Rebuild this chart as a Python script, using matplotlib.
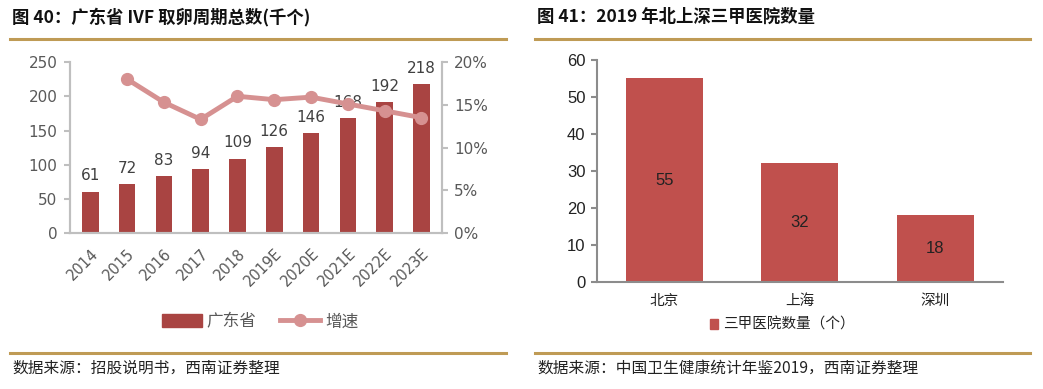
import matplotlib
matplotlib.use("Agg")
import matplotlib.pyplot as plt
from matplotlib.lines import Line2D
from matplotlib.patches import Patch
from matplotlib.ticker import FuncFormatter

plt.rcParams['font.family'] = ['Noto Sans CJK SC', 'DejaVu Sans']

# ---- data ----
years = ["2014", "2015", "2016", "2017", "2018", "2019E", "2020E", "2021E", "2022E", "2023E"]
gd_cycles = [61, 72, 83, 94, 109, 126, 146, 168, 192, 218]
growth_pct = [None, 18.0, 15.3, 13.3, 16.0, 15.6, 15.9, 15.1, 14.3, 13.5]

cities = ["北京", "上海", "深圳"]
hospitals = [55, 32, 18]

title_left = "图 40：广东省 IVF 取卵周期总数(千个)"
title_right = "图 41：2019 年北上深三甲医院数量"
source_left = "数据来源：招股说明书，西南证券整理"
source_right = "数据来源：中国卫生健康统计年鉴2019，西南证券整理"

W, H = 1043, 389
fig = plt.figure(figsize=(W / 100, H / 100), dpi=100)
fig.patch.set_facecolor("white")

def px(x0, y0, x1, y1):
    return [x0 / W, 1 - y1 / H, (x1 - x0) / W, (y1 - y0) / H]

gold = "#BF9B55"
grey_txt = "#595959"
axis_grey = "#BFBFBF"
num_font = ['DejaVu Sans', 'Noto Sans CJK SC']
arial = ['Liberation Sans', 'Noto Sans CJK SC']

# ---- decorations ----
for (x0, x1, y) in [(10, 506, 38.5), (10, 506, 353), (535, 1030, 38.5), (535, 1030, 353)]:
    fig.add_artist(Line2D([x0 / W, x1 / W], [1 - y / H, 1 - y / H], color=gold, lw=2.2))

fig.text(12 / W, 1 - 17 / H, title_left, fontsize=12.5, fontweight="bold", va="center", ha="left", color="#111111")
fig.text(537 / W, 1 - 17 / H, title_right, fontsize=12.5, fontweight="bold", va="center", ha="left", color="#111111")
fig.text(12 / W, 1 - 368 / H, source_left, fontsize=11.3, va="center", ha="left", color="#222222")
fig.text(537 / W, 1 - 368 / H, source_right, fontsize=11.3, va="center", ha="left", color="#222222")

# ---- left chart ----
bar_c = "#A94442"
line_c = "#D69191"
ax = fig.add_axes(px(70, 62, 441.7, 233.3))
x = list(range(len(years)))
ax.bar(x, gd_cycles, width=0.45, color=bar_c, zorder=2)
for xi, v in zip(x, gd_cycles):
    ax.text(xi, v + 12, str(v), ha="center", va="bottom", fontsize=11, color="#404040", family=num_font)
ax.set_ylim(0, 250)
ax.set_yticks([0, 50, 100, 150, 200, 250])
ax.set_xlim(-0.55, len(years) - 0.45)
ax.set_xticks(x)
ax.set_xticklabels(years, rotation=45, ha="right", rotation_mode="anchor", fontsize=10.5, color=grey_txt, family=num_font)
ax.tick_params(axis="x", length=0, pad=9)
ax.tick_params(axis="y", labelsize=11, labelcolor=grey_txt, color=axis_grey, length=4, width=1.5, direction="out", pad=5)
for lab in ax.get_yticklabels():
    lab.set_family(num_font)
ax.spines["top"].set_visible(False)
for s in ["left", "bottom", "right"]:
    ax.spines[s].set_color(axis_grey)
    ax.spines[s].set_linewidth(1.5)

ax2 = ax.twinx()
gx = [xi for xi, g in zip(x, growth_pct) if g is not None]
gy = [g for g in growth_pct if g is not None]
ax2.plot(gx, gy, color=line_c, lw=3.5, marker="o", ms=8.5, zorder=3)
ax2.set_ylim(0, 20)
ax2.set_yticks([0, 5, 10, 15, 20])
ax2.yaxis.set_major_formatter(FuncFormatter(lambda v, p: f"{v:.0f}%"))
ax2.tick_params(axis="y", labelsize=11, labelcolor=grey_txt, color=axis_grey, length=4, width=1.5, direction="out", pad=5)
for lab in ax2.get_yticklabels():
    lab.set_family(num_font)
ax2.spines["top"].set_visible(False)
for s in ["left", "bottom", "right"]:
    ax2.spines[s].set_color(axis_grey)
    ax2.spines[s].set_linewidth(1.5)

handles = [Patch(color=bar_c, label="广东省"),
           Line2D([0], [0], color=line_c, lw=3.5, marker="o", ms=8.5, label="增速")]
fig.legend(handles=handles, loc="center", bbox_to_anchor=(260 / W, 1 - 322 / H), ncol=2, frameon=False,
           fontsize=12, labelcolor=grey_txt, handlelength=2.4, handleheight=0.8, columnspacing=1.4, handletextpad=0.3)

# ---- right chart ----
bar_r = "#C0504D"
axr = fig.add_axes(px(596.7, 60, 1003, 281.7))
xr = list(range(len(cities)))
axr.bar(xr, hospitals, width=0.57, color=bar_r, zorder=2)
for xi, v in zip(xr, hospitals):
    axr.text(xi, v / 2, str(v), ha="center", va="center", fontsize=12, color="#222222", family=arial)
axr.set_ylim(0, 60)
axr.set_yticks(range(0, 61, 10))
axr.set_xlim(-0.5, len(cities) - 0.5)
axr.set_xticks(xr)
axr.set_xticklabels(cities, fontsize=10.5, color="#222222")
axr.tick_params(axis="x", length=0, pad=9)
axr.tick_params(axis="y", labelsize=12, labelcolor="#222222", color="#8C8C8C", length=4, width=1.5, direction="out", pad=4)
for lab in axr.get_yticklabels():
    lab.set_family(arial)
for s in ["top", "right"]:
    axr.spines[s].set_visible(False)
for s in ["left", "bottom"]:
    axr.spines[s].set_color("#8C8C8C")
    axr.spines[s].set_linewidth(1.5)

fig.legend(handles=[Patch(color=bar_r, label="三甲医院数量（个）")], loc="center",
           bbox_to_anchor=(782 / W, 1 - 325 / H), frameon=False, fontsize=10.5, labelcolor="#222222",
           handlelength=0.6, handleheight=0.6, handletextpad=0.3)

fig.savefig("out.png", dpi=100, facecolor="white")
